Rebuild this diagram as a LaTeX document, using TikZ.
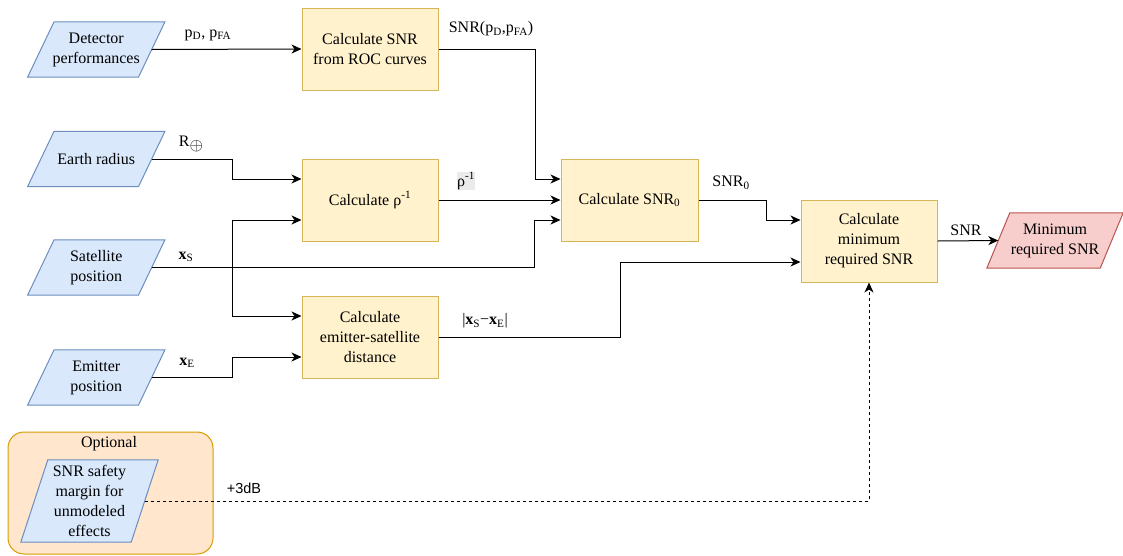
\documentclass[tikz,border=0pt]{standalone}
\usepackage{fontspec}
\setmainfont{Liberation Serif}
\newfontfamily\labelsans{Liberation Sans}
\usetikzlibrary{arrows.meta,backgrounds}

\definecolor{infill}{HTML}{DAE8FC}
\definecolor{inline}{HTML}{6C8EBF}
\definecolor{procfill}{HTML}{FFF2CC}
\definecolor{procline}{HTML}{D6B656}
\definecolor{outfill}{HTML}{F8CECC}
\definecolor{outline}{HTML}{B85450}
\definecolor{optfill}{HTML}{FFE6CC}
\definecolor{optline}{HTML}{D79B00}

\pgfdeclarelayer{back}
\pgfsetlayers{back,background,main}

\tikzset{
  txt/.style={font=\fontsize{16}{20}\selectfont, align=center, inner sep=0pt},
  procbox/.style={txt, draw=procline, fill=procfill, line width=1pt,
    minimum width=136pt, minimum height=82pt},
  slanttext/.style={txt, minimum height=55pt},
  inframe/.style={draw=inline, fill=infill, line width=1pt},
  outframe/.style={draw=outline, fill=outfill, line width=1pt},
  link/.style={line width=1pt, -{Stealth[length=10pt,width=9pt,inset=3pt]}},
  optlink/.style={link, dash pattern=on 3pt off 3pt},
  lbl/.style={txt, font=\fontsize{16}{18}\selectfont},
}

% parallelogram outline behind a text node: node name, half slant, style
\newcommand\slantframe[3]{%
  \begin{pgfonlayer}{background}
    \draw[#3] ([xshift=-#2]#1.south west) -- ([xshift=-#2]#1.south east)
      -- ([xshift=#2]#1.north east) -- ([xshift=#2]#1.north west) -- cycle;
  \end{pgfonlayer}}

\begin{document}
\begin{tikzpicture}[x=1pt,y=-1pt]
\useasboundingbox (0,0) rectangle (1123,555);

% inputs
\node[slanttext, minimum width=110.5pt] (det) at (96.25,49.5) {Detector\\performances};
\slantframe{det}{13.25pt}{inframe}
\node[slanttext, minimum width=110.5pt] (earth) at (96.25,159) {Earth radius};
\slantframe{earth}{13.25pt}{inframe}
\node[slanttext, minimum width=110.5pt] (sat) at (96.25,267.5) {Satellite\\position};
\slantframe{sat}{13.25pt}{inframe}
\node[slanttext, minimum width=110.5pt] (emit) at (96.25,377.5) {Emitter\\position};
\slantframe{emit}{13.25pt}{inframe}

% optional group
\begin{pgfonlayer}{back}
  \node[draw=optline, fill=optfill, line width=1pt, rounded corners=16pt,
    minimum width=205pt, minimum height=122pt, inner sep=0pt] (opt) at (110.5,493) {};
\end{pgfonlayer}
\node[lbl] (optlbl) at (109,444) {Optional};
\node[txt, minimum width=110pt, minimum height=82pt] (safety) at (89.5,501)
  {SNR safety\\margin for\\unmodeled\\effects};
\slantframe{safety}{13.5pt}{inframe}

% processing steps
\node[procbox] (roc) at (370,49) {Calculate SNR\\from ROC curves};
\node[procbox] (rho) at (370,200) {Calculate ρ\textsuperscript{-1}};
\node[procbox] (dist) at (370,337) {Calculate\\emitter-satellite\\distance};
\node[procbox, minimum width=137pt] (snr0) at (629.5,200) {Calculate SNR\textsubscript{0}};
\node[procbox] (minb) at (869,241) {Calculate\\minimum\\required SNR};

% output
\node[slanttext, minimum width=113pt] (minreq) at (1055,240.5) {Minimum\\required SNR};
\slantframe{minreq}{11.5pt}{outframe}

% connectors
\draw[link] (det.east) -- (roc.west);
\draw[link] (roc.east) -- ++(97,0) |- ([yshift=21pt]snr0.west);
\draw[link] (rho.east) -- (snr0.west);
\draw[link] (sat.east) -- ++(383,0) |- ([yshift=-20pt]snr0.west);
\draw[link] (earth.east) -- ++(81,0) |- ([yshift=21pt]rho.west);
\draw[link] (sat.east) -- ++(81,0) |- ([yshift=-20pt]rho.west);
\draw[link] (sat.east) -- ++(81,0) |- ([yshift=21pt]dist.west);
\draw[link] (emit.east) -- ++(81,0) |- ([yshift=-20pt]dist.west);
\draw[link] (dist.east) -- ++(182,0) |- ([yshift=-21pt]minb.west);
\draw[link] (snr0.east) -- ++(68,0) |- ([yshift=21pt]minb.west);
\draw[link] (minb.east) -- (minreq.west);
\draw[optlink] (safety.east) -| (minb.south);

% connector labels
\node[lbl] (lpd) at (208,35) {p\textsubscript{D}, p\textsubscript{FA}};
\node[lbl] (lsnrp) at (491,29) {SNR(p\textsubscript{D},p\textsubscript{FA})};
\node[lbl] (lre) at (191,144) {R\raisebox{-4pt}{$\oplus$}};
\node[lbl, fill=black!8, inner sep=0.5pt] (lrho) at (466,181) {ρ\textsuperscript{-1}};
\node[lbl] (lxs) at (186,257) {\textbf{x}\textsubscript{S}};
\node[lbl] (lxe) at (187,363) {\textbf{x}\textsubscript{E}};
\node[lbl] (ldist) at (485,321) {|\textbf{x}\textsubscript{S}−\textbf{x}\textsubscript{E}|};
\node[lbl] (lsnr0) at (731,183) {SNR\textsubscript{0}};
\node[lbl] (lsnr) at (966,230) {SNR};
\node[txt, font=\labelsans\fontsize{14.5}{16}\selectfont] (l3db) at (244,488) {+3dB};
\end{tikzpicture}
\end{document}
